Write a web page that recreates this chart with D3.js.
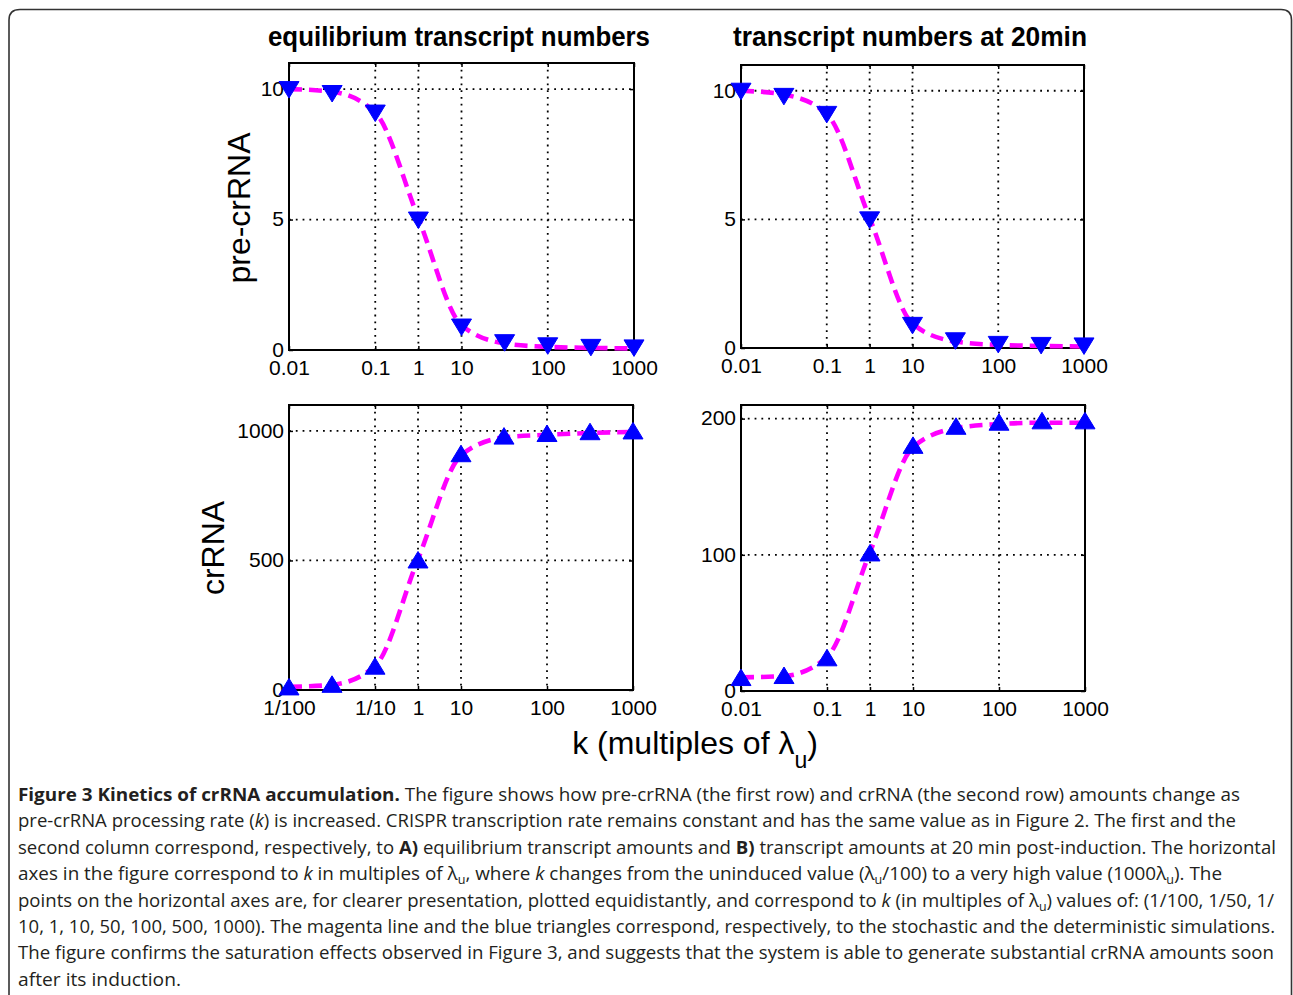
<!DOCTYPE html>
<html><head><meta charset="utf-8">
<script src="https://cdn.jsdelivr.net/npm/d3@7"></script>
<style>
body{margin:0;background:#fff}
svg{display:block}
.tick text{font-family:"Liberation Sans",Arial,sans-serif;font-size:21px;fill:#000}
</style>
</head><body>
<svg id="c" width="1293" height="995"></svg>
<script>
// ---------- data ----------
const kValues = ["1/100","1/50","1/10","1","10","50","100","500","1000"];
const xTickIndex = [0, 2, 3, 4, 6, 8];
const xTickLabelsDecimal = ["0.01","0.1","1","10","100","1000"];
const xTickLabelsFraction = ["1/100","1/10","1","10","100","1000"];

const preEqDeterministic  = [10, 9.85, 9.1, 5.0, 0.9, 0.3, 0.18, 0.12, 0.1];
const preEqStochastic     = [10, 9.9, 9.1, 5.05, 0.95, 0.25, 0.12, 0.08, 0.06];
const pre20Deterministic  = [10, 9.8, 9.1, 5.0, 0.9, 0.3, 0.16, 0.12, 0.1];
const pre20Stochastic     = [10, 9.85, 9.1, 5.05, 0.95, 0.25, 0.12, 0.08, 0.06];
const crEqDeterministic   = [10, 20, 90, 500, 910, 978, 988, 995, 998];
const crEqStochastic      = [12, 20, 92, 505, 905, 975, 985, 992, 996];
const cr20Deterministic   = [9.5, 11, 24, 101, 180, 194, 197, 198, 198];
const cr20Stochastic      = [10, 11, 25, 102, 179, 193, 196, 197, 197];

const yTicksPre  = [0, 5, 10];
const yTicksCrEq = [0, 500, 1000];
const yTicksCr20 = [0, 100, 200];
const yMaxPre = 11, yMaxCrEq = 1100, yMaxCr20 = 210;

const columnTitles = ["equilibrium transcript numbers", "transcript numbers at 20min"];
const rowLabels = ["pre-crRNA", "crRNA"];

// ---------- layout ----------
const svg = d3.select("#c");
const FONT = '"Liberation Sans", Arial, sans-serif';

// outer frame (rounded top corners)
svg.append("path")
  .attr("d", "M9,996 L9,20 Q9,9.5 20,9.5 L1281,9.5 Q1291.5,9.5 1291.5,20 L1291.5,996")
  .attr("fill", "none").attr("stroke", "#333").attr("stroke-width", 1.6);

const panels = [
  {x0:289, x1:634, y0:63,  y1:350, ymax:yMaxPre,  yTicks:yTicksPre,  det:preEqDeterministic, sto:preEqStochastic, xl:xTickLabelsDecimal,  up:false},
  {x0:741, x1:1084,y0:65,  y1:348, ymax:yMaxPre,  yTicks:yTicksPre,  det:pre20Deterministic, sto:pre20Stochastic, xl:xTickLabelsDecimal,  up:false},
  {x0:289, x1:633, y0:405, y1:690, ymax:yMaxCrEq, yTicks:yTicksCrEq, det:crEqDeterministic,  sto:crEqStochastic,  xl:xTickLabelsFraction, up:true},
  {x0:741, x1:1085,y0:405, y1:691, ymax:yMaxCr20, yTicks:yTicksCr20, det:cr20Deterministic,  sto:cr20Stochastic,  xl:xTickLabelsDecimal,  up:true}
];

panels.forEach(p => {
  const x = d3.scaleLinear().domain([0, kValues.length - 1]).range([p.x0, p.x1]);
  const y = d3.scaleLinear().domain([0, p.ymax]).range([p.y1, p.y0]);
  const g = svg.append("g");

  // grid
  g.append("g").selectAll("line").data(xTickIndex).join("line")
    .attr("x1", d => x(d)).attr("x2", d => x(d))
    .attr("y1", p.y0).attr("y2", p.y1)
    .attr("stroke", "#000").attr("stroke-width", 1.8).attr("stroke-dasharray", "1.8,5");
  g.append("g").selectAll("line").data(p.yTicks).join("line")
    .attr("y1", d => y(d)).attr("y2", d => y(d))
    .attr("x1", p.x0).attr("x2", p.x1)
    .attr("stroke", "#000").attr("stroke-width", 1.8).attr("stroke-dasharray", "1.8,5");

  // axes (inward ticks, labels)
  const ax = g.append("g").attr("transform", `translate(0,${p.y1})`)
    .call(d3.axisBottom(x).tickValues(xTickIndex).tickFormat((d, i) => p.xl[i]).tickSize(-4).tickPadding(10));
  const ay = g.append("g").attr("transform", `translate(${p.x0},0)`)
    .call(d3.axisLeft(y).tickValues(p.yTicks).tickFormat(d3.format("d")).tickSize(-4).tickPadding(5));
  const at = g.append("g").attr("transform", `translate(0,${p.y0})`)
    .call(d3.axisTop(x).tickValues(xTickIndex).tickFormat("").tickSize(-4));
  const ar = g.append("g").attr("transform", `translate(${p.x1},0)`)
    .call(d3.axisRight(y).tickValues(p.yTicks).tickFormat("").tickSize(-4));
  [ax, ay, at, ar].forEach(a => {
    a.select(".domain").remove();
    a.selectAll(".tick line").attr("stroke", "#000").attr("stroke-width", 1.5);
    a.attr("font-family", null).attr("font-size", null);
  });
  ay.selectAll(".tick text").attr("dy", "0.3em");

  // frame
  g.append("rect").attr("x", p.x0).attr("y", p.y0)
    .attr("width", p.x1 - p.x0).attr("height", p.y1 - p.y0)
    .attr("fill", "none").attr("stroke", "#000").attr("stroke-width", 2);

  // stochastic line
  const line = d3.line().x((d, i) => x(i)).y(d => y(d)).curve(d3.curveMonotoneX);
  g.append("path").datum(p.sto).attr("d", line)
    .attr("fill", "none").attr("stroke", "#ff00ff").attr("stroke-width", 4.6)
    .attr("stroke-dasharray", "13,7");

  // deterministic markers
  const tri = p.up ? "M0,-9L10,7.5L-10,7.5Z" : "M0,9L10,-7.5L-10,-7.5Z";
  g.append("g").selectAll("path").data(p.det).join("path")
    .attr("transform", (d, i) => `translate(${x(i)},${y(d)})`)
    .attr("d", tri).attr("fill", "#0000ff").attr("stroke", "#0000ff").attr("stroke-width", 1);
});

// column titles
[[459, 268, 650], [910, 733, 1087]].forEach((c, i) => {
  svg.append("text").attr("x", c[0]).attr("y", 46).attr("text-anchor", "middle")
    .attr("font-family", FONT).attr("font-weight", "bold").attr("font-size", 28)
    .attr("textLength", c[2] - c[1]).attr("lengthAdjust", "spacingAndGlyphs")
    .text(columnTitles[i]);
});

// row labels
svg.append("text").attr("transform", "translate(250,208) rotate(-90)")
  .attr("text-anchor", "middle").attr("font-family", FONT).attr("font-size", 32)
  .text(rowLabels[0]);
svg.append("text").attr("transform", "translate(224,548) rotate(-90)")
  .attr("text-anchor", "middle").attr("font-family", FONT).attr("font-size", 32)
  .text(rowLabels[1]);

// x axis label
const xl = svg.append("text").attr("x", 695).attr("y", 754).attr("text-anchor", "middle")
  .attr("font-family", FONT).attr("font-size", 32);
xl.append("tspan").text("k (multiples of λ");
xl.append("tspan").attr("dy", 14).attr("font-size", 23).text("u");
xl.append("tspan").attr("dy", -14).text(")");

// caption
const CAP = '"Open Sans", "Noto Sans", sans-serif';
const capLines = [
  {end:1240, segs:[["Figure 3 Kinetics of crRNA accumulation.","b"],[" The figure shows how pre-crRNA (the first row) and crRNA (the second row) amounts change as",""]]},
  {end:1236, segs:[["pre-crRNA processing rate (",""],["k","i"],[") is increased. CRISPR transcription rate remains constant and has the same value as in Figure 2. The first and the",""]]},
  {end:1276, segs:[["second column correspond, respectively, to ",""],["A)","b"],[" equilibrium transcript amounts and ",""],["B)","b"],[" transcript amounts at 20 min post-induction. The horizontal",""]]},
  {end:1222, segs:[["axes in the figure correspond to ",""],["k","i"],[" in multiples of λ",""],["u","s"],[", where ",""],["k","i"],[" changes from the uninduced value (λ",""],["u","s"],["/100) to a very high value (1000λ",""],["u","s"],["). The",""]]},
  {end:1274, segs:[["points on the horizontal axes are, for clearer presentation, plotted equidistantly, and correspond to ",""],["k","i"],[" (in multiples of λ",""],["u","s"],[") values of: (1/100, 1/50, 1/",""]]},
  {end:1275, segs:[["10, 1, 10, 50, 100, 500, 1000). The magenta line and the blue triangles correspond, respectively, to the stochastic and the deterministic simulations.",""]]},
  {end:1274, segs:[["The figure confirms the saturation effects observed in Figure 3, and suggests that the system is able to generate substantial crRNA amounts soon",""]]},
  {end:181,  segs:[["after its induction.",""]]}
];
capLines.forEach((ln, i) => {
  const t = svg.append("text").attr("x", 18).attr("y", 801 + i * 26.4)
    .attr("font-family", CAP).attr("font-size", 18).attr("fill", "#231f20")
    .attr("textLength", ln.end - 18).attr("lengthAdjust", "spacingAndGlyphs");
  let shifted = false;
  ln.segs.forEach(s => {
    const ts = t.append("tspan").text(s[0]);
    if (s[1] === "b") ts.attr("font-weight", "bold");
    if (s[1] === "i") ts.attr("font-style", "italic");
    if (s[1] === "s") { ts.attr("font-size", 12).attr("dy", 4); shifted = true; }
    else if (shifted) { ts.attr("dy", -4); shifted = false; }
  });
});
</script>
</body></html>
